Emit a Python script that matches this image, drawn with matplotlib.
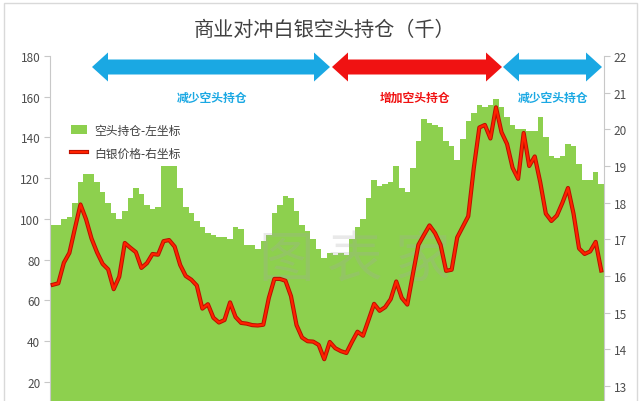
import numpy as np
import matplotlib.pyplot as plt
from matplotlib.patches import Polygon, Rectangle
import matplotlib.patheffects as pe

plt.rcParams['font.family'] = ['Noto Sans CJK SC', 'DejaVu Sans']

# 商业空头持仓（千），左坐标
short_pos = [97, 97, 100, 101, 108, 118, 122, 122, 118, 113,
             108, 103, 100, 104, 110, 115, 112, 107, 105, 106,
             126, 126, 126, 115, 106, 103, 99, 96, 93, 92,
             91, 91, 90, 96, 95, 87, 87, 85, 89, 92,
             103, 107, 111, 110, 104, 97, 94, 90, 85, 81,
             83, 82, 83, 82, 90, 96, 100, 110, 119, 116,
             117, 118, 126, 115, 113, 125, 138, 149, 147, 146,
             145, 138, 136, 129, 139, 148, 152, 156, 155, 156,
             159, 155, 150, 146, 144, 144, 143, 143, 150, 140,
             131, 130, 131, 137, 136, 127, 119, 119, 123, 117]

# 白银价格，右坐标
silver = [15.76, 15.8, 16.36, 16.63, 17.3, 17.95, 17.55, 17.02, 16.64, 16.33,
          16.18, 15.64, 15.98, 16.9, 16.77, 16.65, 16.22, 16.35, 16.6, 16.58,
          16.95, 16.98, 16.8, 16.3, 16.0, 15.9, 15.74, 15.11, 15.23, 14.86,
          14.73, 14.8, 15.28, 14.88, 14.72, 14.7, 14.66, 14.65, 14.67, 15.4,
          15.92, 15.92, 15.87, 15.45, 14.66, 14.32, 14.22, 14.21, 14.12, 13.73,
          14.2, 14.03, 13.95, 13.9, 14.2, 14.48, 14.37, 14.8, 15.24, 15.05,
          15.15, 15.37, 15.85, 15.4, 15.22, 16.05, 16.85, 17.12, 17.38, 17.17,
          16.85, 16.14, 16.17, 17.05, 17.34, 17.63, 18.95, 20.05, 20.12, 19.75,
          20.6, 19.92, 19.6, 18.95, 18.65, 19.9, 19.0, 19.26, 18.55, 17.7,
          17.5, 17.65, 18.0, 18.4, 17.7, 16.75, 16.6, 16.67, 16.93, 16.15]

left_ticks = list(range(20, 181, 20))
right_ticks = list(range(13, 23))

title = "商业对冲白银空头持仓（千）"
legend_labels = ["空头持仓-左坐标", "白银价格-右坐标"]
phase_labels = ["减少空头持仓", "增加空头持仓", "减少空头持仓"]

W, H = 642, 402
green = "#8dd04e"
blue = "#1aa8e3"
red = "#f01212"
grey = "#c8c8c8"

fig = plt.figure(figsize=(W / 100, H / 100), dpi=100)


def px(x, y):
    return x / W, 1 - y / H


# frame round the picture
fig.patches.append(Rectangle(px(4, 420), 633 / W, 416 / H, transform=fig.transFigure,
                             fill=False, edgecolor="#d9d9d9", lw=1))

ax = fig.add_axes([50 / W, 0, 554 / W, 345 / H])
x = np.arange(len(short_pos))
bars = ax.bar(x, short_pos, width=1.0, color=green, linewidth=0, label=legend_labels[0])
ax.set_xlim(-0.5, len(short_pos) - 0.5)
ax.set_ylim(10.5, 180)
ax.set_yticks(left_ticks)
ax.set_xticks([])

ax2 = ax.twinx()
line, = ax2.plot(x, silver, color="#ff2200", lw=1.6, label=legend_labels[1],
                 path_effects=[pe.Stroke(linewidth=3.0, foreground="#b81000"), pe.Normal()])
ax2.set_ylim(12.59, 22)
ax2.set_yticks(right_ticks)

for a in (ax, ax2):
    for s in a.spines.values():
        s.set_visible(False)
    a.tick_params(axis="y", direction="out", length=4, width=0.8, color=grey,
                  labelcolor="#4d4d4d", labelsize=8.5, pad=3)
ax.spines["left"].set_visible(True)
ax.spines["left"].set_color(grey)
ax2.spines["right"].set_visible(True)
ax2.spines["right"].set_color(grey)

# watermark
ax.text(0.55, 0.41, "图 表 家", transform=ax.transAxes, ha="center", va="center",
        fontsize=40, color="#a8a8a8", alpha=0.25, zorder=1.5)

fig.text(*px(325, 30), title, ha="center", va="center", fontsize=14.5, color="#404040")


def double_arrow(x0, x1, yc, color, hh=14.5, sh=7.5, hl=16):
    pts = [(x0, yc), (x0 + hl, yc - hh), (x0 + hl, yc - sh), (x1 - hl, yc - sh),
           (x1 - hl, yc - hh), (x1, yc), (x1 - hl, yc + hh), (x1 - hl, yc + sh),
           (x0 + hl, yc + sh), (x0 + hl, yc + hh)]
    fig.patches.append(Polygon([px(a, b) for a, b in pts], closed=True,
                               transform=fig.transFigure, facecolor=color, edgecolor="none"))


spans = [(92, 330, blue), (332, 502, red), (503, 602, blue)]
label_x = [212, 415, 553]
for (x0, x1, c), lx, lab in zip(spans, label_x, phase_labels):
    double_arrow(x0, x1, 68, c)
    fig.text(*px(lx, 98), lab, ha="center", va="center", fontsize=8.5,
             fontweight="bold", color=c)

fig.legend(handles=[bars, line], labels=legend_labels, loc="upper left",
           bbox_to_anchor=px(60, 114), frameon=False, fontsize=8.5,
           labelcolor="#404040", handlelength=1.4, handleheight=0.9,
           labelspacing=0.85, handletextpad=0.6)

fig.savefig("out.png", dpi=100)
